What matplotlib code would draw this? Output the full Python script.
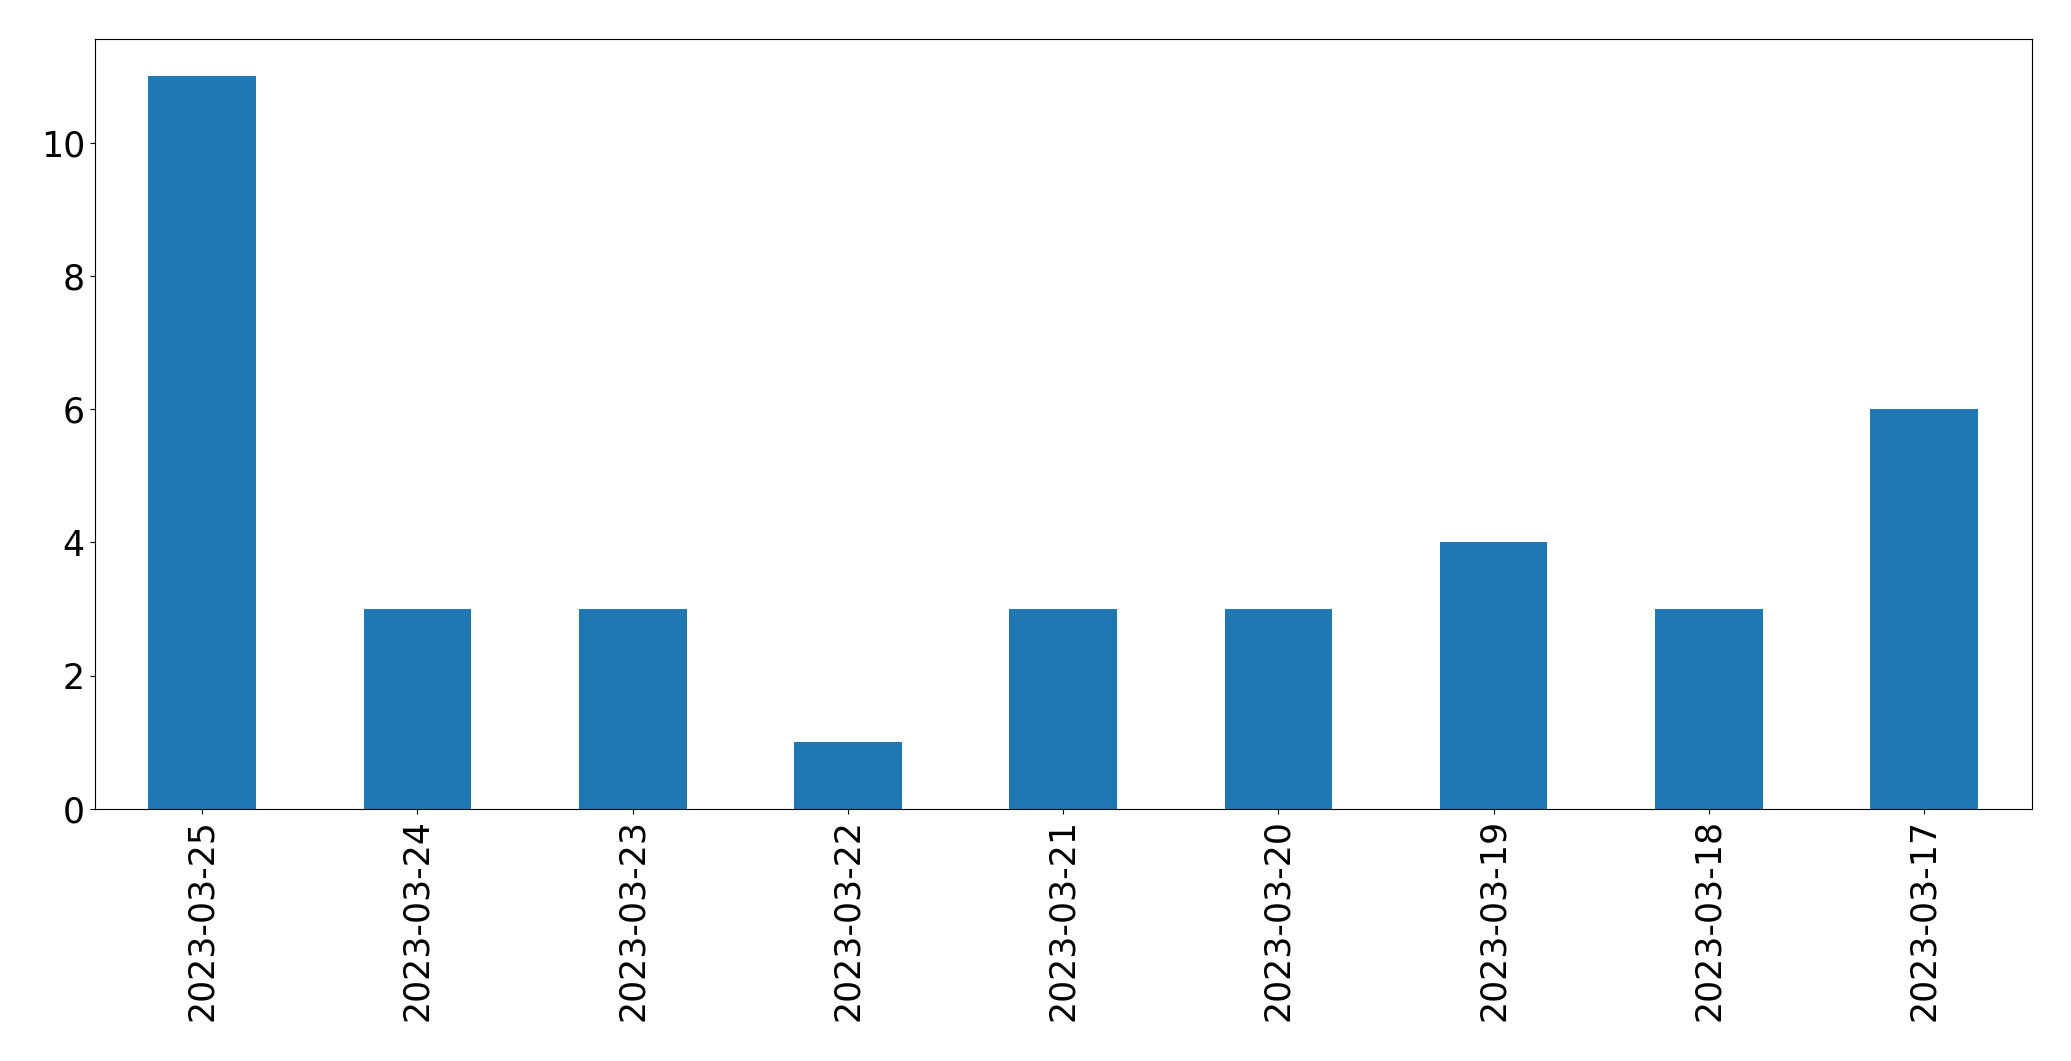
import matplotlib
matplotlib.use("Agg")
import matplotlib.pyplot as plt
import pandas as pd

dates = ["2023-03-25", "2023-03-24", "2023-03-23", "2023-03-22", "2023-03-21",
         "2023-03-20", "2023-03-19", "2023-03-18", "2023-03-17"]
counts = [11, 3, 3, 1, 3, 3, 4, 3, 6]

series = pd.Series(counts, index=dates)

fig, ax = plt.subplots(figsize=(20.71, 10.61), dpi=100)
series.plot(kind="bar", ax=ax, color="#1f77b4")
ax.tick_params(axis="both", labelsize=25)
fig.subplots_adjust(left=0.0457, right=0.981, top=0.963, bottom=0.2375)
fig.savefig("out.png", dpi=100)
